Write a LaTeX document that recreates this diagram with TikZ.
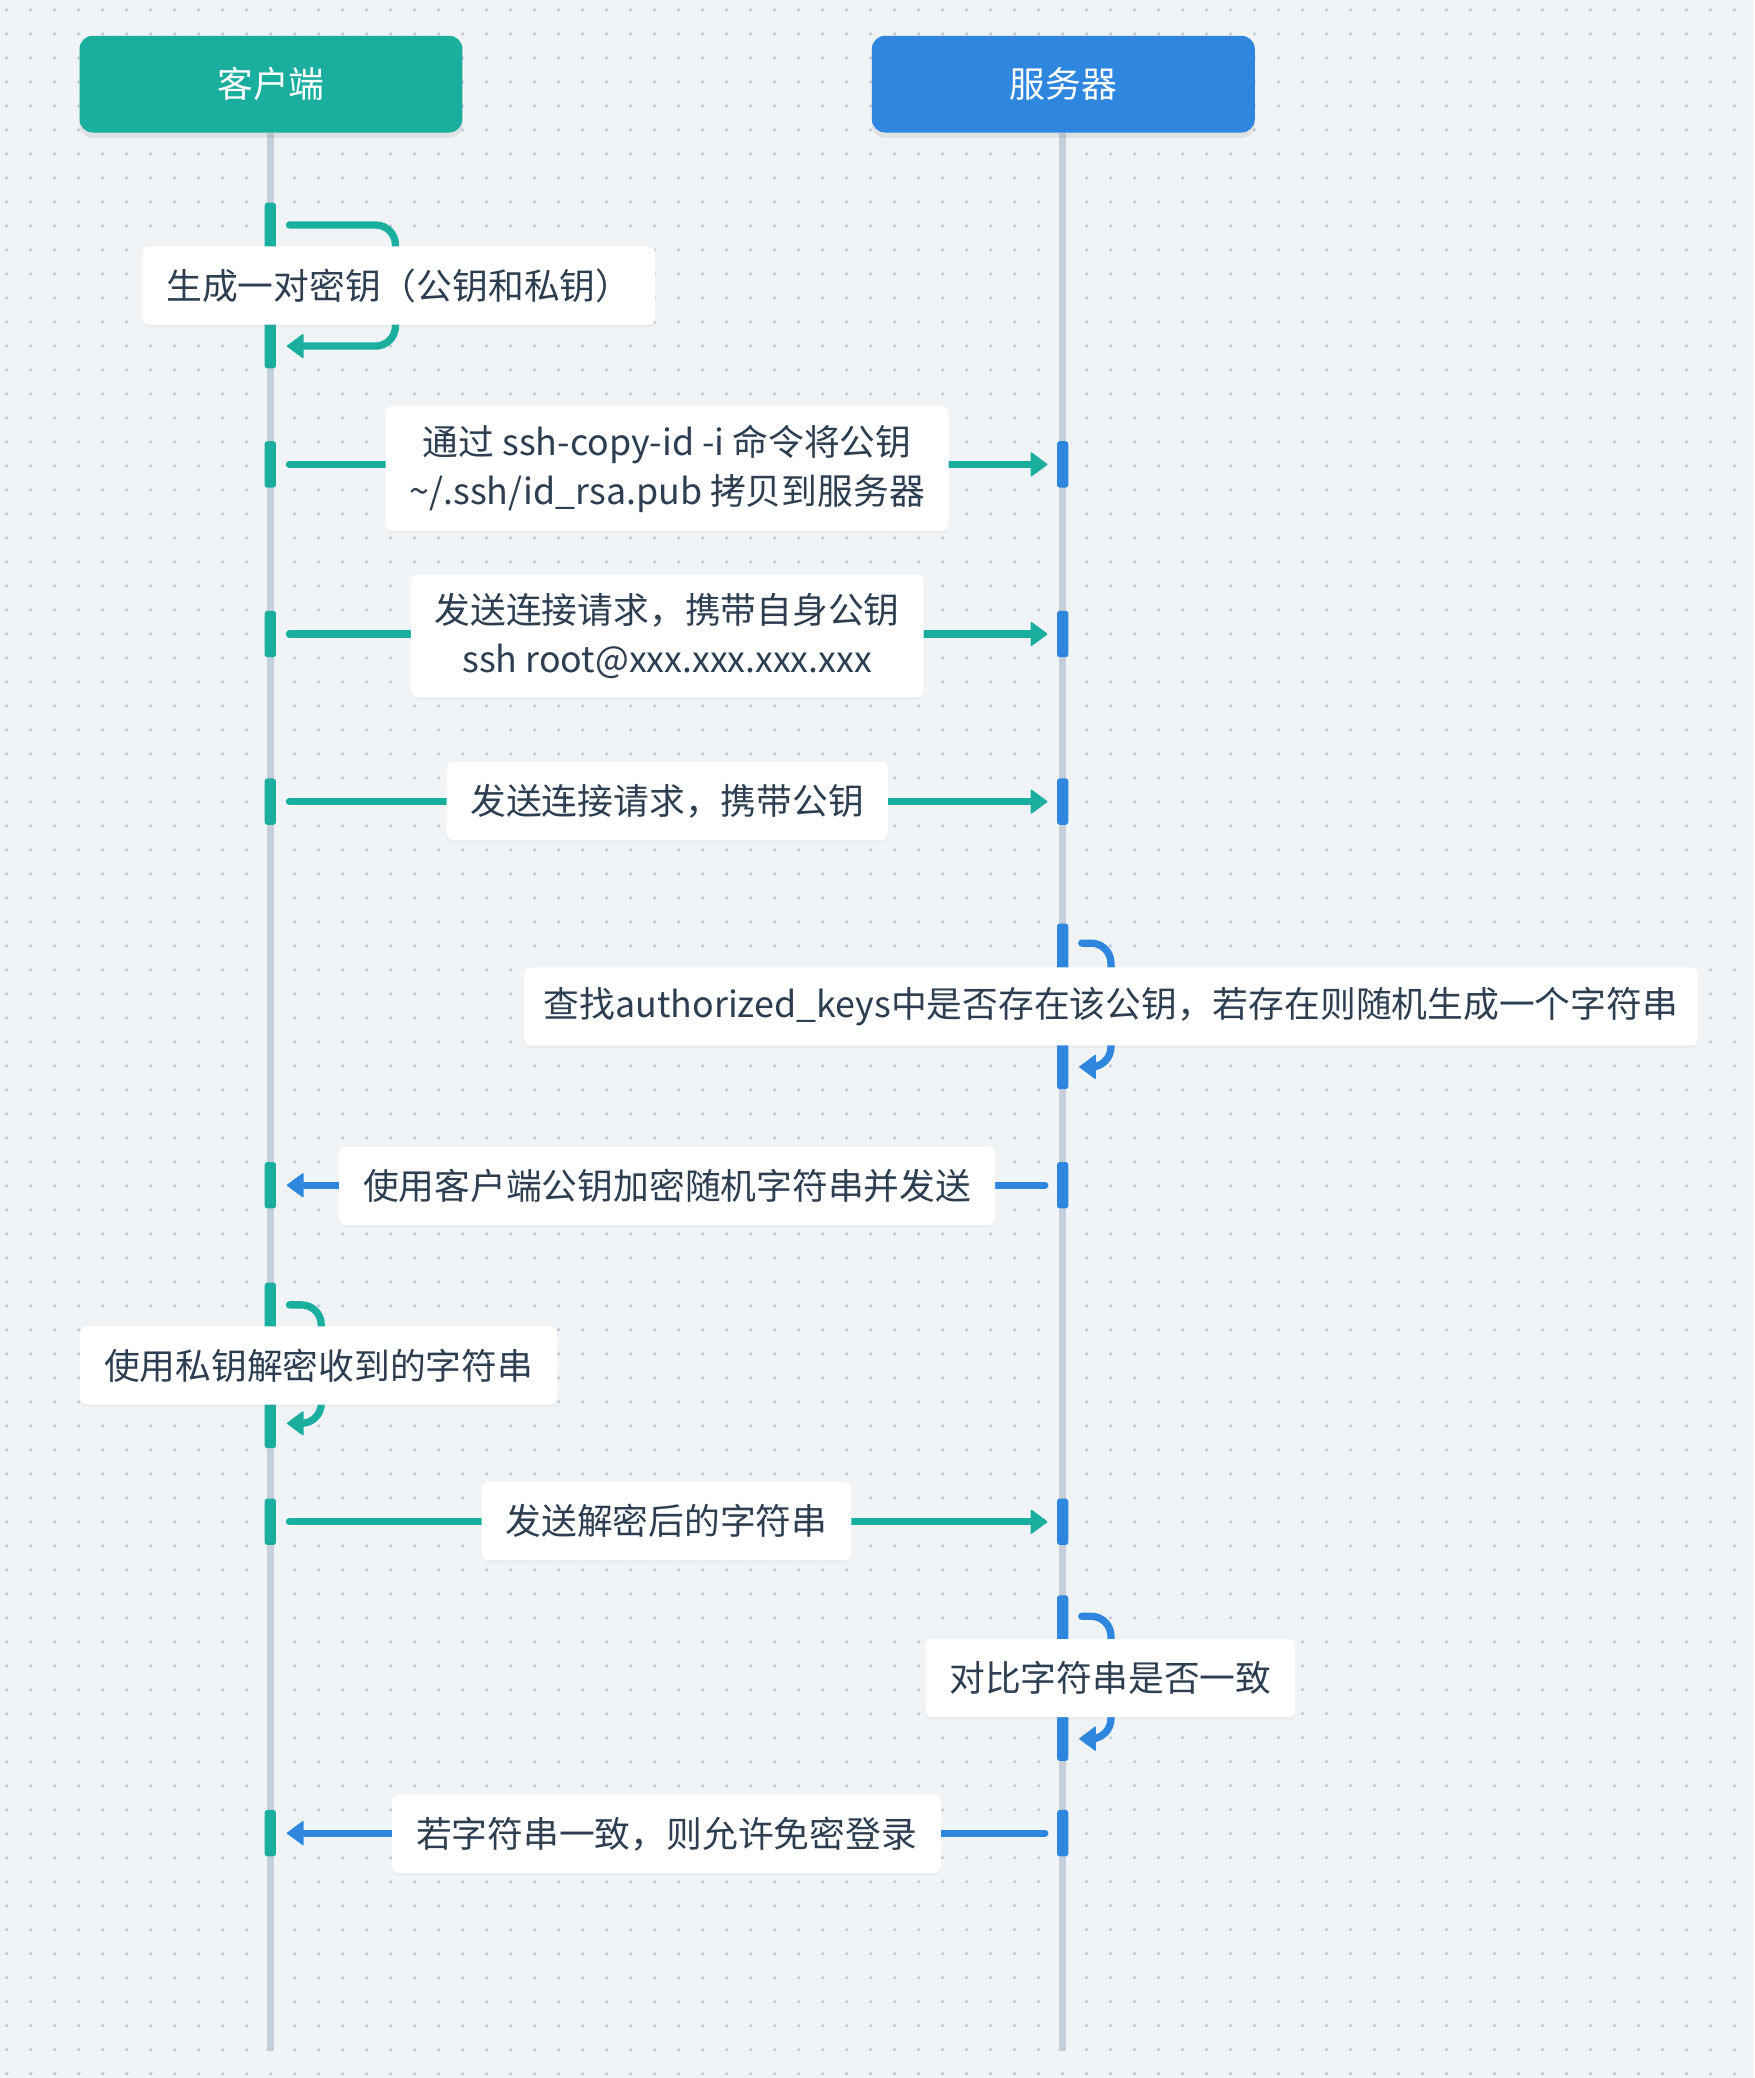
\documentclass[tikz,border=0pt]{standalone}
\usepackage{fontspec}
\setmainfont{Noto Sans CJK SC}
\usepackage{tikz}
\usetikzlibrary{arrows.meta, shadows}
\definecolor{tealc}{HTML}{1AAE9F}
\definecolor{bluec}{HTML}{2E86DE}
\definecolor{lifec}{HTML}{C4CFDA}
\definecolor{bgc}{HTML}{F0F4F7}
\definecolor{dotc}{HTML}{C5CED8}
\definecolor{textc}{HTML}{2C3E50}
\tikzstyle{head} = [rectangle, rounded corners=10pt, minimum width=289pt, minimum height=73pt, text=white, drop shadow={opacity=0.15, shadow xshift=0pt, shadow yshift=-4pt}]
\tikzstyle{chead} = [head, fill=tealc]
\tikzstyle{shead} = [head, fill=bluec]
\tikzstyle{life} = [draw=lifec, line width=5pt]
\tikzstyle{cbar} = [rectangle, fill=tealc, minimum width=8.5pt, minimum height=35pt, inner sep=0pt, rounded corners=2pt]
\tikzstyle{sbar} = [cbar, fill=bluec]
\tikzstyle{cself} = [cbar, minimum height=125pt]
\tikzstyle{sself} = [sbar, minimum height=125pt]
\tikzstyle{msg} = [rectangle, fill=white, rounded corners=5pt, inner xsep=18pt, inner ysep=12pt, minimum height=59pt, text=textc, align=center, drop shadow={opacity=0.06, shadow xshift=0pt, shadow yshift=-2pt}]
\tikzstyle{tline} = [draw=tealc, line width=5.5pt, line cap=round, -{Triangle[length=13pt, width=19pt, line width=1pt, round]}]
\tikzstyle{bline} = [tline, draw=bluec]
\tikzstyle{tloop} = [tline, rounded corners=15pt]
\tikzstyle{bloop} = [bline, rounded corners=15pt]

\begin{document}
\begin{tikzpicture}[x=1pt, y=-1pt, font=\fontsize{27pt}{37pt}\selectfont]
	\useasboundingbox (0,0) rectangle (1323.8,1568.3);
	\fill [bgc] (0,0) rectangle (1323.8,1568.3);
	\foreach \i in {0,...,72}
		\foreach \j in {0,...,86}
			\fill [dotc] (5.06+18.11*\i, 7.55+18.11*\j) circle (1.5pt);

	\coordinate (cend) at (204,1548);
	\coordinate (send) at (802,1548);
	\path [life] (204,100) -- (cend);
	\path [life] (802,100) -- (send);

	\node [cself] (cs1) at (204,215.5) {};
	\node [cbar] (c1) at (204,350.5) {};
	\node [sbar] (s1) at (802,350.5) {};
	\node [cbar] (c2) at (204,478.5) {};
	\node [sbar] (s2) at (802,478.5) {};
	\node [cbar] (c3) at (204,605) {};
	\node [sbar] (s3) at (802,605) {};
	\node [sself] (ss1) at (802,759.5) {};
	\node [cbar] (c4) at (204,894.5) {};
	\node [sbar] (s4) at (802,894.5) {};
	\node [cself] (cs2) at (204,1030.5) {};
	\node [cbar] (c5) at (204,1148.5) {};
	\node [sbar] (s5) at (802,1148.5) {};
	\node [sself] (ss2) at (802,1266.5) {};
	\node [cbar] (c6) at (204,1383.5) {};
	\node [sbar] (s6) at (802,1383.5) {};

	\path [tloop] ([shift={(10,17)}]cs1.north east) -| ([xshift=90]cs1.east) |- ([shift={(8,-17)}]cs1.south east);
	\path [tline, shorten <=10pt, shorten >=7pt] (c1.east) -- (s1.west);
	\path [tline, shorten <=10pt, shorten >=7pt] (c2.east) -- (s2.west);
	\path [tline, shorten <=10pt, shorten >=7pt] (c3.east) -- (s3.west);
	\path [bloop] ([shift={(10,15)}]ss1.north east) -| ([xshift=32]ss1.east) |- ([shift={(8,-17)}]ss1.south east);
	\path [bline, shorten <=9pt, shorten >=8pt] (s4.west) -- (c4.east);
	\path [tloop] ([shift={(10,17)}]cs2.north east) -| ([xshift=34]cs2.east) |- ([shift={(8,-19)}]cs2.south east);
	\path [tline, shorten <=10pt, shorten >=7pt] (c5.east) -- (s5.west);
	\path [bloop] ([shift={(10,16)}]ss2.north east) -| ([xshift=32]ss2.east) |- ([shift={(8,-17)}]ss2.south east);
	\path [bline, shorten <=9pt, shorten >=8pt] (s6.west) -- (c6.east);

	\node [msg] (l0) at (301,215.5) {生成一对密钥（公钥和私钥）};
	\node [msg, inner ysep=14pt] (l1) at (503.5,353.5) {通过 ssh-copy-id -i 命令将公钥\\\textasciitilde/.ssh/id\_rsa.pub 拷贝到服务器};
	\node [msg, inner ysep=14pt] (l2) at (503.5,480) {发送连接请求，携带自身公钥\\ssh root@xxx.xxx.xxx.xxx};
	\node [msg] (l3) at (503.5,604.5) {发送连接请求，携带公钥};
	\node [msg, inner xsep=15pt] (l4) at (838.5,759.5) {查找authorized\_keys中是否存在该公钥，若存在则随机生成一个字符串};
	\node [msg] (l5) at (503.5,895) {使用客户端公钥加密随机字符串并发送};
	\node [msg] (l6) at (240.5,1030.5) {使用私钥解密收到的字符串};
	\node [msg] (l7) at (503,1148) {发送解密后的字符串};
	\node [msg] (l8) at (838,1266.5) {对比字符串是否一致};
	\node [msg] (l9) at (503,1384) {若字符串一致，则允许免密登录};

	\node [chead] (client) at (204.5,63.5) {客户端};
	\node [shead] (server) at (802.5,63.5) {服务器};
\end{tikzpicture}
\end{document}
